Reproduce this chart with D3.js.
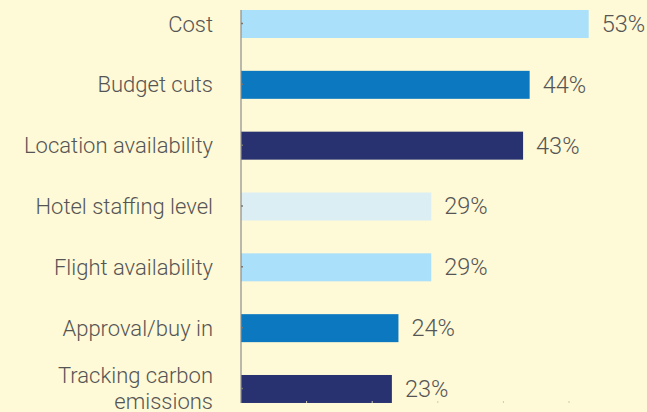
<!DOCTYPE html>
<html>
<head>
<meta charset="utf-8">
<script src="https://cdn.jsdelivr.net/npm/d3@7"></script>
<style>
  html, body { margin: 0; padding: 0; background: #fef9d6; }
  svg { display: block; }
</style>
</head>
<body>
<svg id="chart" width="647" height="412"></svg>
<script>
const categories = ["Cost", "Budget cuts", "Location availability", "Hotel staffing level", "Flight availability", "Approval/buy in", "Tracking carbon emissions"];
const labelLines = [["Cost"], ["Budget cuts"], ["Location availability"], ["Hotel staffing level"], ["Flight availability"], ["Approval/buy in"], ["Tracking carbon", "emissions"]];
const values = [53, 44, 43, 29, 29, 24, 23];
const barColors = ["#abe0fa", "#0b78bf", "#283270", "#dbeef4", "#abe0fa", "#0b78bf", "#283270"];
const xTicks = [0, 10, 20, 30, 40, 50];

const svg = d3.select("#chart");
const H = 412;
const left = 241;

const x = d3.scaleLinear().domain([0, 10]).range([left, left + 65.6]);
const step = 60.83;
const y = d3.scaleBand().domain(categories)
  .range([24 - step / 2, 24 - step / 2 + step * categories.length])
  .paddingInner(0.54).paddingOuter(0.27);

const bw = y.bandwidth();

// bars
svg.append("g").selectAll("rect").data(categories).join("rect")
  .attr("x", x(0))
  .attr("y", d => y(d))
  .attr("width", (d, i) => x(values[i]) - x(0))
  .attr("height", bw)
  .attr("fill", (d, i) => barColors[i]);

// bottom ticks (faint)
const axisBottomY = 403;
svg.append("g").selectAll("line").data(xTicks.slice(1)).join("line")
  .attr("x1", d => x(d)).attr("x2", d => x(d))
  .attr("y1", axisBottomY - 2).attr("y2", axisBottomY)
  .attr("stroke", "#cfcab0").attr("stroke-width", 1);

// y axis line
svg.append("line")
  .attr("x1", x(0)).attr("x2", x(0))
  .attr("y1", 10).attr("y2", axisBottomY)
  .attr("stroke", "#8c8c8c").attr("stroke-width", 1.2);

// small ticks on y axis
svg.append("g").selectAll("line").data(categories).join("line")
  .attr("x1", x(0)).attr("x2", x(0) + 2)
  .attr("y1", d => y(d) + bw / 2 - 0.5).attr("y2", d => y(d) + bw / 2 - 0.5)
  .attr("stroke", "#777").attr("stroke-width", 1.5);

// category labels
const fontFam = "Roboto, 'Open Sans', sans-serif";
const fs = 22;
const lbl = svg.append("g").selectAll("text").data(categories).join("text")
  .attr("x", x(0) - 28)
  .attr("y", d => y(d) + bw / 2)
  .attr("text-anchor", "end")
  .attr("font-family", fontFam)
  .attr("font-weight", 300)
  .attr("font-size", fs)
  .attr("fill", "#555");
lbl.each(function (d, i) {
  const lines = labelLines[i];
  const n = lines.length;
  const lh = 26;
  d3.select(this).selectAll("tspan").data(lines).join("tspan")
    .attr("x", x(0) - 28)
    .attr("dy", (l, j) => j === 0 ? ((-(n - 1) / 2) * lh + 7.5) : lh)
    .text(l => l);
});

// value labels
svg.append("g").selectAll("text").data(categories).join("text")
  .attr("x", (d, i) => x(values[i]) + 13)
  .attr("y", d => y(d) + bw / 2 + 8)
  .attr("font-family", fontFam)
  .attr("font-weight", 300)
  .attr("font-size", 23.5)
  .attr("fill", "#555")
  .text((d, i) => values[i] + "%");
</script>
</body>
</html>
